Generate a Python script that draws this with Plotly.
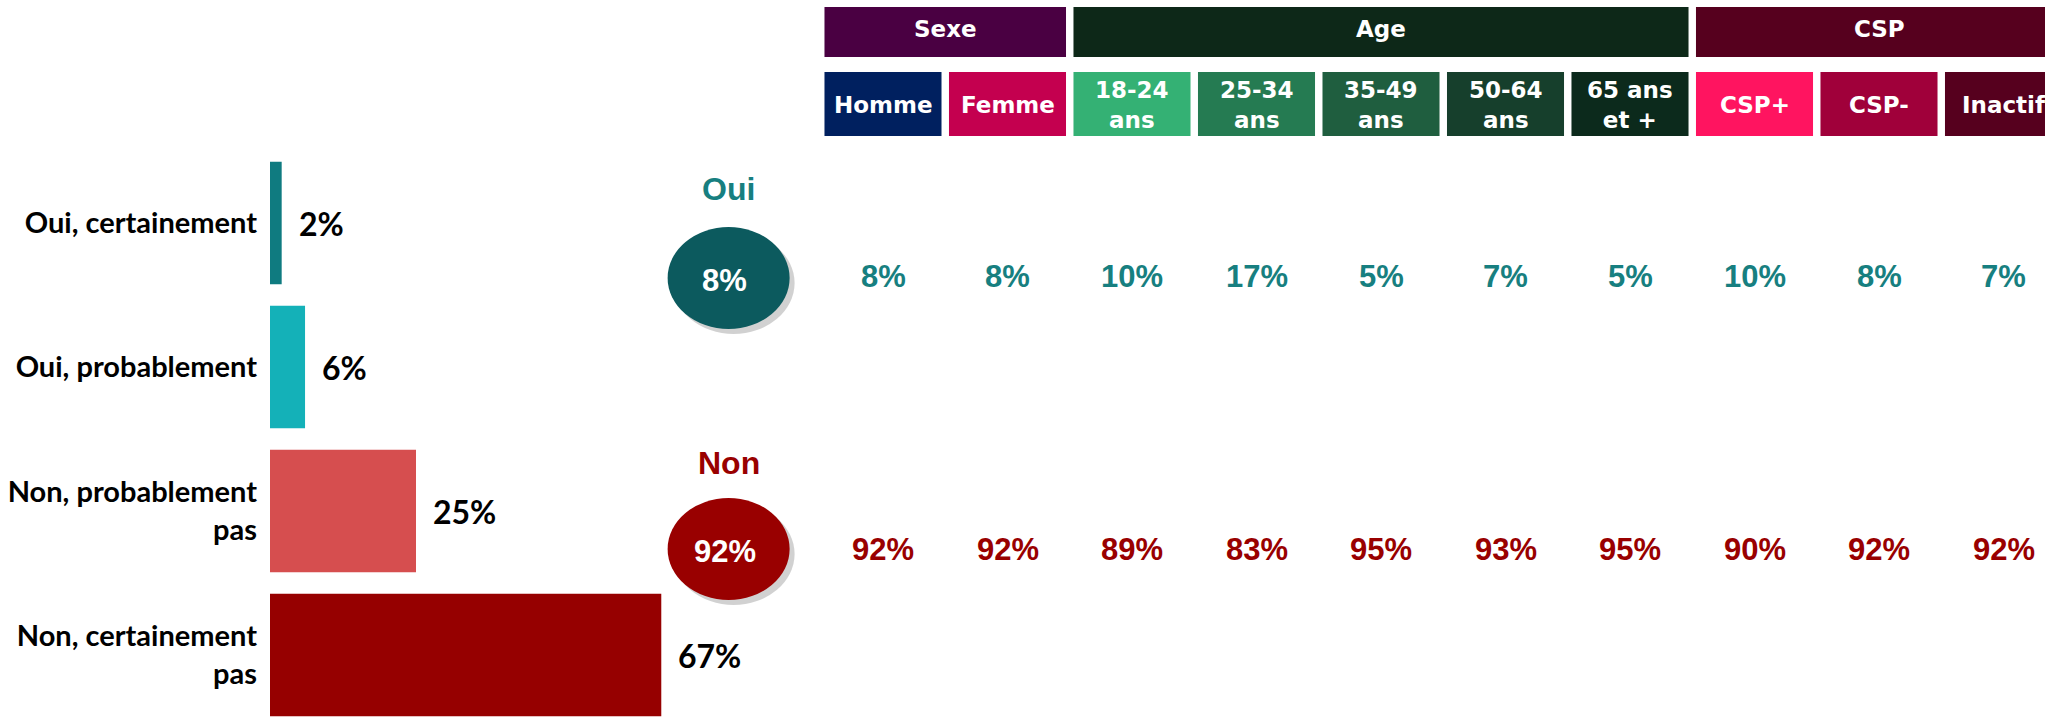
import plotly.graph_objects as go

# ---------------- data ----------------
answer_labels = ["Oui, certainement", "Oui, probablement",
                 "Non, probablement<br>pas", "Non, certainement<br>pas"]
answer_values = [2, 6, 25, 67]
answer_colors = ["#0F7B80", "#14B1B8", "#D64E4F", "#960000"]

total_oui = 8
total_non = 92

groups = ["Sexe", "Age", "CSP"]
group_spans = [(0, 1), (2, 6), (7, 9)]
group_colors = ["#4A0042", "#0D2818", "#56001E"]

columns = ["Homme", "Femme", "18-24<br>ans", "25-34<br>ans", "35-49<br>ans",
           "50-64<br>ans", "65 ans<br>et +", "CSP+", "CSP-", "Inactif"]
column_colors = ["#00205F", "#C4004F", "#34B174", "#257B52", "#1F5E3F",
                 "#163F2C", "#0C2A1C", "#FF1460", "#A0003A", "#56001E"]
oui_values = [8, 8, 10, 17, 5, 7, 5, 10, 8, 7]
non_values = [92, 92, 89, 83, 95, 93, 95, 90, 92, 92]

# ---------------- layout constants ----------------
W, H = 2045, 718
OUI_COLOR = "#177F80"
NON_COLOR = "#990000"
OUI_CIRCLE = "#0C5A5E"
NON_CIRCLE = "#990000"
TOTAL_COL = -1.24          # position of the total ellipses on the table axis
COL_HALF = 0.47            # half width of a header cell (table axis units)
COL_PITCH = 124.5          # pixels per table column
FIRST_COL_PX = 883
# table rows (y2 axis, measured from the top)
ROW_GROUP = (7, 57)
ROW_SUB = (72, 136)
Y_OUI_LABEL = 189
Y_OUI_VAL = 276
Y_NON_LABEL = 463
Y_NON_VAL = 549

fig = go.Figure()

# ---- horizontal bars ----
fig.add_trace(go.Bar(
    x=answer_values, y=list(range(len(answer_values))),
    orientation="h", width=0.85,
    marker=dict(color=answer_colors, line=dict(width=0)),
    hoverinfo="skip", xaxis="x", yaxis="y", showlegend=False,
))

# invisible trace to anchor table axes
fig.add_trace(go.Scatter(x=[0], y=[0], mode="markers", marker=dict(opacity=0),
                         xaxis="x2", yaxis="y2", showlegend=False, hoverinfo="skip"))

shapes = []
annotations = []

# bar value labels
for i, v in enumerate(answer_values):
    annotations.append(dict(xref="x", yref="y", x=v, y=i, xanchor="left", xshift=15,
                            text=f"<b>{v}%</b>", showarrow=False,
                            font=dict(family="Lato", size=32, color="#000000")))

# group headers
for name, (a, b), col in zip(groups, group_spans, group_colors):
    x0, x1 = a - COL_HALF, b + COL_HALF
    if b == len(columns) - 1:
        x1 = b + 1.2
    shapes.append(dict(type="rect", xref="x2", yref="y2", x0=x0, x1=x1,
                       y0=ROW_GROUP[0], y1=ROW_GROUP[1], fillcolor=col,
                       line=dict(width=0), layer="below"))
    cx = (a + b) / 2
    annotations.append(dict(xref="x2", yref="y2", x=cx, y=(ROW_GROUP[0] + ROW_GROUP[1]) / 2 - 3,
                            text=f"<b>{name}</b>", showarrow=False,
                            font=dict(family="DejaVu Sans", size=23, color="white")))

# sub headers
for i, (name, col) in enumerate(zip(columns, column_colors)):
    x1 = i + COL_HALF if i < len(columns) - 1 else i + 1.2
    shapes.append(dict(type="rect", xref="x2", yref="y2", x0=i - COL_HALF, x1=x1,
                       y0=ROW_SUB[0], y1=ROW_SUB[1], fillcolor=col,
                       line=dict(width=0), layer="below"))
    annotations.append(dict(xref="x2", yref="y2", x=i, y=(ROW_SUB[0] + ROW_SUB[1]) / 2 + 1,
                            text=f"<b>{name}</b>", showarrow=False,
                            font=dict(family="DejaVu Sans", size=23, color="white")))

# values rows
for i, (o, n) in enumerate(zip(oui_values, non_values)):
    annotations.append(dict(xref="x2", yref="y2", x=i, y=Y_OUI_VAL, text=f"<b>{o}%</b>",
                            showarrow=False,
                            font=dict(family="Liberation Sans", size=31, color=OUI_COLOR)))
    annotations.append(dict(xref="x2", yref="y2", x=i, y=Y_NON_VAL, text=f"<b>{n}%</b>",
                            showarrow=False,
                            font=dict(family="Liberation Sans", size=31, color=NON_COLOR)))

# totals: ellipses with shadow
for yc, col, val, lab, lab_y, labcol in [
        (Y_OUI_VAL + 2, OUI_CIRCLE, total_oui, "Oui", Y_OUI_LABEL, OUI_COLOR),
        (Y_NON_VAL, NON_CIRCLE, total_non, "Non", Y_NON_LABEL, NON_COLOR)]:
    rx, ry = 0.49, 51
    shapes.append(dict(type="circle", xref="x2", yref="y2",
                       x0=TOTAL_COL - rx + 0.04, x1=TOTAL_COL + rx + 0.04,
                       y0=yc - ry + 5, y1=yc + ry + 5,
                       fillcolor="rgba(0,0,0,0.18)", line=dict(width=0), layer="below"))
    shapes.append(dict(type="circle", xref="x2", yref="y2",
                       x0=TOTAL_COL - rx, x1=TOTAL_COL + rx, y0=yc - ry, y1=yc + ry,
                       fillcolor=col, line=dict(width=0), layer="below"))
    annotations.append(dict(xref="x2", yref="y2", x=TOTAL_COL - 0.03, y=yc + 2,
                            text=f"<b>{val}%</b>", showarrow=False,
                            font=dict(family="Liberation Sans", size=31, color="white")))
    annotations.append(dict(xref="x2", yref="y2", x=TOTAL_COL, y=lab_y,
                            text=f"<b>{lab}</b>", showarrow=False,
                            font=dict(family="Liberation Sans", size=32, color=labcol)))

BAR_X0 = 270 / W
BAR_X1 = 1022 / W
PX_PER_PCT = 5.84
pitch = 144
first_center = 223

fig.update_layout(
    width=W, height=H,
    margin=dict(l=0, r=0, t=0, b=0),
    paper_bgcolor="white", plot_bgcolor="rgba(0,0,0,0)",
    shapes=shapes, annotations=annotations,
    xaxis=dict(domain=[BAR_X0, BAR_X1], range=[0, (BAR_X1 - BAR_X0) * W / PX_PER_PCT],
               visible=False, fixedrange=True),
    yaxis=dict(domain=[0, 1],
               range=[(H - first_center) / pitch, -first_center / pitch],
               tickmode="array", tickvals=list(range(len(answer_labels))),
               ticktext=[f"<b>{t}</b>" for t in answer_labels],
               tickfont=dict(family="Lato", size=29, color="#000000"),
               ticklabelstandoff=12, showgrid=False, zeroline=False,
               showline=False, ticks="", anchor="x", fixedrange=True,
               automargin=False),
    xaxis2=dict(domain=[0, 1],
                range=[-FIRST_COL_PX / COL_PITCH, (W - FIRST_COL_PX) / COL_PITCH],
                visible=False, anchor="y2", fixedrange=True),
    yaxis2=dict(domain=[0, 1], range=[H, 0], visible=False, anchor="x2",
                fixedrange=True),
    showlegend=False,
)

fig.write_html("out.html", config={"displayModeBar": False},
               post_script="document.body.style.margin='0';document.body.style.overflow='hidden';")
